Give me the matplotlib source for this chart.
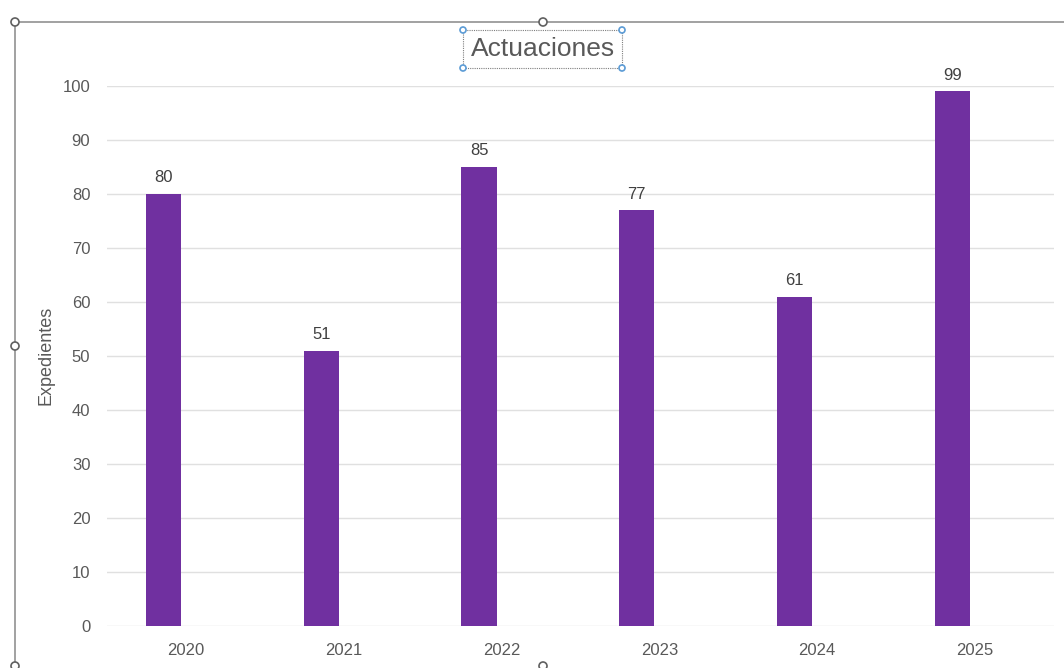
import matplotlib
matplotlib.use("Agg")
import matplotlib.pyplot as plt
from matplotlib.patches import Circle, Rectangle
from matplotlib.lines import Line2D

# Data
years = ["2020", "2021", "2022", "2023", "2024", "2025"]
expedientes = [80, 51, 85, 77, 61, 99]
y_ticks = [0, 10, 20, 30, 40, 50, 60, 70, 80, 90, 100]

W, H = 1064, 668
plt.rcParams["font.family"] = ["Liberation Sans", "DejaVu Sans"]

fig = plt.figure(figsize=(W / 100, H / 100), dpi=100)
fig.patch.set_facecolor("white")


def fx(px):
    return px / W


def fy(py):
    return 1 - py / H


ax = fig.add_axes([fx(107), fy(626), fx(1054) - fx(107), fy(86) - fy(626)])

x = list(range(len(years)))
bar_offset = -0.143
bar_width = 0.222
bars = ax.bar([i + bar_offset for i in x], expedientes, width=bar_width,
              color="#7030A0", zorder=3)

for i, v in zip(x, expedientes):
    ax.annotate(str(v), (i + bar_offset, v), xytext=(0, 8.4),
                textcoords="offset points", ha="center", va="baseline",
                fontsize=12, color="#404040", annotation_clip=False)

ax.set_xlim(-0.5, len(years) - 0.5)
ax.set_ylim(0, 100)
ax.set_yticks(y_ticks)
ax.set_xticks(x)
ax.set_xticklabels(years)
ax.grid(axis="y", color="#E0E0E0", linewidth=1, zorder=0)
ax.set_axisbelow(True)
for s in ax.spines.values():
    s.set_visible(False)
ax.tick_params(axis="both", length=0, labelsize=12, labelcolor="#595959")
ax.tick_params(axis="y", pad=12)
ax.tick_params(axis="x", pad=12)

ax.set_ylabel("Expedientes", fontsize=13, color="#595959")
ax.yaxis.set_label_coords(-0.055, 0.502)

# Title inside its dotted frame
fig.text(fx(543), fy(49), "Actuaciones", ha="center", va="center",
         fontsize=19, color="#595959")
fig.add_artist(Rectangle((fx(463), fy(68)), fx(622) - fx(463), fy(30) - fy(68),
                         transform=fig.transFigure, fill=False,
                         edgecolor="#7f7f7f", linestyle=(0, (1, 1)),
                         linewidth=0.8))
for (px, py) in [(463, 30), (622, 30), (463, 68), (622, 68)]:
    fig.add_artist(Circle((px, H - py), 3, transform=None,
                          facecolor="white", edgecolor="#5B9BD5",
                          linewidth=1.2, zorder=10))

# Chart-area frame with handles
frame_col = "#9a9a9a"
fig.add_artist(Line2D([fx(15), fx(1064)], [fy(22), fy(22)],
                      transform=fig.transFigure, color=frame_col, linewidth=1.3))
fig.add_artist(Line2D([fx(15), fx(15)], [fy(22), fy(668)],
                      transform=fig.transFigure, color=frame_col, linewidth=1.3))
for (px, py) in [(15, 22), (543, 22), (15, 346), (15, 666), (543, 666)]:
    fig.add_artist(Circle((px, H - py), 4, transform=None,
                          facecolor="white", edgecolor="#606060",
                          linewidth=1.2, zorder=10))

fig.savefig("out.png", dpi=100)
